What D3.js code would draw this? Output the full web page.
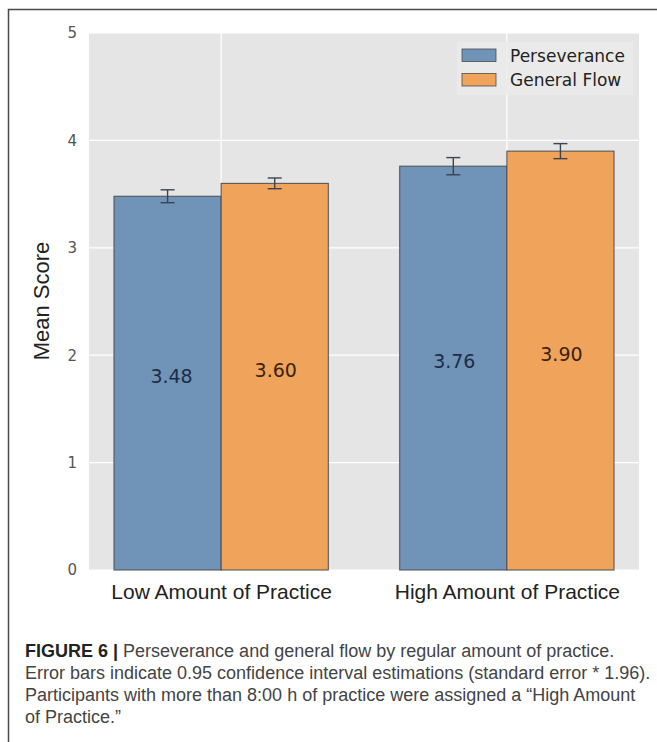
<!DOCTYPE html>
<html>
<head>
<meta charset="utf-8">
<script src="https://cdn.jsdelivr.net/npm/d3@7"></script>
<style>
  html, body { margin: 0; padding: 0; background: #fff; }
  svg { display: block; }
</style>
</head>
<body>
<svg id="chart" width="657" height="742"></svg>
<script>
// Groups, series and values
const categories = ["Low Amount of Practice", "High Amount of Practice"];
const seriesNames = ["Perseverance", "General Flow"];
const perseverance = [3.48, 3.76];
const generalFlow = [3.60, 3.90];
const perseveranceCI = [0.06, 0.08];
const generalFlowCI = [0.05, 0.07];
const yTicks = [0, 1, 2, 3, 4, 5];
const captionLines = [
  { bold: "FIGURE 6 | ", text: "Perseverance and general flow by regular amount of practice." },
  { bold: "", text: "Error bars indicate 0.95 confidence interval estimations (standard error * 1.96)." },
  { bold: "", text: "Participants with more than 8:00 h of practice were assigned a \u201cHigh Amount" },
  { bold: "", text: "of Practice.\u201d" }
];

const colors = ["#7093b8", "#f0a35a"];
const labelColors = ["#1d2d47", "#3a2311"];
const values = [perseverance, generalFlow];
const cis = [perseveranceCI, generalFlowCI];

const svg = d3.select("#chart");

// Figure frame (left and top edges)
svg.append("path")
  .attr("d", "M8.5,742 L8.5,9.5 L657,9.5")
  .attr("fill", "none").attr("stroke", "#4a4a4a").attr("stroke-width", 1.5);

const plot = { left: 89, right: 639, top: 33, bottom: 570 };
const barWidth = 0.375;

const x = d3.scaleLinear().domain([-0.4625, 1.4625]).range([plot.left, plot.right]);
const y = d3.scaleLinear().domain([0, 5]).range([plot.bottom, plot.top]);

// Panel background
svg.append("rect")
  .attr("x", plot.left).attr("y", plot.top)
  .attr("width", plot.right - plot.left).attr("height", plot.bottom - plot.top)
  .attr("fill", "#e5e5e5");

// Grid lines
const g = svg.append("g");
g.selectAll("line.hgrid").data(yTicks).enter().append("line")
  .attr("class", "hgrid")
  .attr("x1", plot.left).attr("x2", plot.right)
  .attr("y1", d => y(d)).attr("y2", d => y(d))
  .attr("stroke", "#ffffff").attr("stroke-width", 1.2);
g.selectAll("line.vgrid").data(categories).enter().append("line")
  .attr("class", "vgrid")
  .attr("x1", (d, i) => x(i)).attr("x2", (d, i) => x(i))
  .attr("y1", plot.top).attr("y2", plot.bottom)
  .attr("stroke", "#ffffff").attr("stroke-width", 1.2);

// Bars with their value labels at half height
values.forEach((vals, s) => {
  vals.forEach((v, i) => {
    const cx = x(i + (s === 0 ? -barWidth / 2 : barWidth / 2));
    svg.append("rect")
      .attr("x", s === 0 ? x(i - barWidth) : x(i))
      .attr("y", y(v))
      .attr("width", x(barWidth) - x(0))
      .attr("height", y(0) - y(v))
      .attr("fill", colors[s])
      .attr("stroke", "#4d4d4d").attr("stroke-width", 1);
    svg.append("text")
      .attr("x", cx + (s === 0 && i === 0 ? 4 : 1)).attr("y", y(v / 2))
      .attr("text-anchor", "middle")
      .attr("font-family", "DejaVu Sans")
      .attr("font-size", 19)
      .attr("fill", labelColors[s])
      .text(v.toFixed(2));
  });
});

// Error bars
values.forEach((vals, s) => {
  vals.forEach((v, i) => {
    const cx = x(i + (s === 0 ? -barWidth / 2 : barWidth / 2));
    const lo = y(v - cis[s][i]), hi = y(v + cis[s][i]);
    const eg = svg.append("g").attr("stroke", "#3b4450").attr("stroke-width", 1.4);
    eg.append("line").attr("x1", cx).attr("x2", cx).attr("y1", lo).attr("y2", hi);
    eg.append("line").attr("x1", cx - 7).attr("x2", cx + 7).attr("y1", lo).attr("y2", lo);
    eg.append("line").attr("x1", cx - 7).attr("x2", cx + 7).attr("y1", hi).attr("y2", hi);
  });
});

// Y axis tick labels
const yAxis = d3.axisLeft(y).tickValues(yTicks).tickSize(0).tickPadding(12).tickFormat(d3.format("d"));
const ya = svg.append("g").attr("transform", `translate(${plot.left},0)`).call(yAxis);
ya.select(".domain").remove();
ya.selectAll("text")
  .attr("font-family", "DejaVu Sans").attr("font-size", 15).attr("fill", "#555");

// X axis category labels
const xAxis = d3.axisBottom(x).tickValues([0, 1]).tickSize(0).tickPadding(14)
  .tickFormat((d, i) => categories[i]);
const xa = svg.append("g").attr("transform", `translate(0,${plot.bottom})`).call(xAxis);
xa.select(".domain").remove();
xa.selectAll("text")
  .attr("font-family", "Liberation Sans, Arial, sans-serif").attr("font-size", 21).attr("fill", "#222");

// Y axis title
svg.append("text")
  .attr("transform", `translate(49,301) rotate(-90)`)
  .attr("text-anchor", "middle")
  .attr("font-family", "Liberation Sans, Arial, sans-serif")
  .attr("font-size", 22).attr("fill", "#222")
  .text("Mean Score");

// Legend
const legend = svg.append("g");
legend.append("rect")
  .attr("x", 457).attr("y", 42).attr("width", 176).attr("height", 53)
  .attr("fill", "#ebebeb").attr("fill-opacity", 0.85);
seriesNames.forEach((name, s) => {
  legend.append("rect")
    .attr("x", 462).attr("y", 49 + s * 24.5).attr("width", 34).attr("height", 12.5)
    .attr("fill", colors[s]).attr("stroke", "#4d4d4d").attr("stroke-width", 0.8);
  legend.append("text")
    .attr("x", 510).attr("y", 62 + s * 23.5)
    .attr("font-family", "DejaVu Sans").attr("font-size", 17).attr("fill", "#222")
    .text(name);
});

// Caption
captionLines.forEach((ln, i) => {
  const t = svg.append("text")
    .attr("x", 25).attr("y", 657 + i * 22)
    .attr("font-family", "Liberation Sans, Arial, sans-serif")
    .attr("font-size", 18).attr("fill", "#444");
  if (ln.bold) t.append("tspan").attr("font-weight", "bold").attr("fill", "#222").text(ln.bold);
  t.append("tspan").text(ln.text);
});
</script>
</body>
</html>
